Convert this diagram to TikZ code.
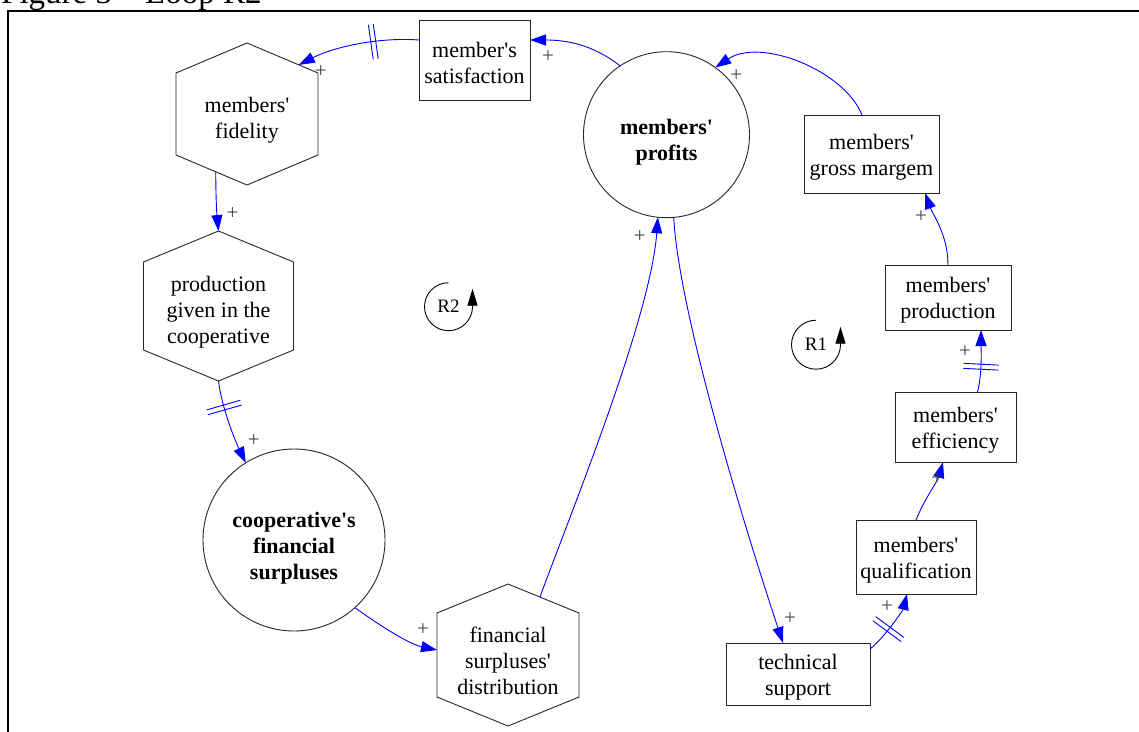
\documentclass[tikz,border=0pt]{standalone}
\usepackage{fontspec}
\setmainfont{Liberation Serif}[Ligatures=TeXOff]
\usetikzlibrary{arrows.meta,calc}

\definecolor{linkblue}{RGB}{0,0,255}
\newcommand\nodetext{\fontsize{22}{26}\selectfont}
\newcommand\plusfont{\fontsize{21}{21}\selectfont}
\newcommand\loopfont{\fontsize{19}{19}\selectfont}
\newcommand\titlefont{\fontsize{33}{36}\selectfont}
% first-line struts: they lower a label a little inside its shape
\newcommand\boxstrut{\rule{0pt}{21pt}}
\newcommand\hexstrut{\rule{0pt}{27pt}}
\newcommand\circstrut{\rule{0pt}{31pt}}

% hexagon outline drawn on the border box of a named node; #2 = drop of the side corners
\newcommand\hexoutline[2]{%
  \coordinate (#1-t)  at (#1.north);
  \coordinate (#1-ur) at ([yshift=-#2]#1.north east);
  \coordinate (#1-lr) at ([yshift=#2]#1.south east);
  \coordinate (#1-b)  at (#1.south);
  \coordinate (#1-ll) at ([yshift=#2]#1.south west);
  \coordinate (#1-ul) at ([yshift=-#2]#1.north west);
  \draw[hexline] (#1-t) -- (#1-ur) -- (#1-lr) -- (#1-b) -- (#1-ll) -- (#1-ul) -- cycle;}

\tikzset{
  vbox/.style={draw=black!85, line width=0.9pt, rectangle, inner sep=0pt, outer sep=0pt, align=center, font=\nodetext},
  vcirc/.style={draw=black!85, line width=0.9pt, circle, inner sep=0pt, outer sep=0pt, align=center, font=\nodetext\bfseries},
  vhex/.style={rectangle, inner sep=0pt, outer sep=0pt, align=center, font=\nodetext},
  hexline/.style={draw=black!85, line width=0.9pt, line join=miter},
  link/.style={draw=linkblue, line width=0.9pt, -{Triangle[length=16pt,width=11pt]}},
  plus/.style={font=\plusfont, text=black!75, inner sep=0pt},
  delaymark/.style={sloped, inner sep=0pt, outer sep=0pt, minimum width=5pt, minimum height=35pt},
  delaybar/.style={draw=linkblue, line width=0.9pt},
  loopname/.style={font=\loopfont, inner sep=0pt},
  loopline/.style={draw=black, line width=0.9pt, -{Triangle[length=17pt,width=10pt]}},
}

\begin{document}
\begin{tikzpicture}[x=1pt, y=-1pt]
\useasboundingbox (0,0) rectangle (1139,731);

% caption and frame
\node[anchor=base west, font=\titlefont, inner sep=0pt] (title) at (1,3) {Figure 3 – Loop R2};
\draw[line width=2.3pt] (1150,11) -- (8,11) -- (8,745);

% variables
\node[vbox, minimum width=111pt, minimum height=80pt] (sat) at (474.5,60) {\boxstrut member's\\satisfaction};
\node[vcirc, minimum size=166pt] (prof) at (666.5,134.7) {\circstrut members'\\profits};
\node[vbox, minimum width=135pt, minimum height=78pt] (gm) at (871.5,154) {\boxstrut members'\\gross margem};
\node[vbox, minimum width=126pt, minimum height=65pt] (mp) at (948,297.5) {\boxstrut members'\\production};
\node[vbox, minimum width=121pt, minimum height=70pt] (eff) at (955.5,427) {\boxstrut members'\\efficiency};
\node[vbox, minimum width=120pt, minimum height=74pt] (qual) at (916,557) {\boxstrut members'\\qualification};
\node[vbox, minimum width=144pt, minimum height=62pt] (ts) at (798,674) {\boxstrut technical\\support};
\node[vcirc, minimum size=182pt] (sur) at (294,540) {\circstrut cooperative's\\financial\\surpluses};

\node[vhex, minimum width=142pt, minimum height=142pt] (fid) at (247,114) {\hexstrut members'\\fidelity};
\hexoutline{fid}{30pt}
\node[vhex, minimum width=150pt, minimum height=150pt] (pg) at (218.5,306) {\hexstrut production\\given in the\\cooperative};
\hexoutline{pg}{31pt}
\node[vhex, minimum width=142pt, minimum height=142pt] (dist) at (508,655) {\hexstrut financial\\surpluses'\\distribution};
\hexoutline{dist}{29pt}

% loop R2
\draw[link] (prof.124) .. controls +(-28,-22) and +(35,0) .. ([yshift=20pt]sat.east)
  node[plus, pos=1, shift={(18,17)}] (p1) {+};
\draw[link] ([yshift=20pt]sat.west) .. controls +(-40,-3) and +(35,-18) .. ($(fid-t)!0.73!(fid-ur)$)
  node[delaymark, pos=0.37] (d1) {}
  node[plus, pos=1, shift={(22,7)}] (p2) {+};
\draw[link] ($(fid-ll)!0.56!(fid-b)$) .. controls +(0,20) and +(-2,-20) .. (pg.north)
  node[plus, pos=1, shift={(14,-17)}] (p3) {+};
\draw[link] (pg.south) .. controls +(3,25) and +(-12,-25) .. (sur.122)
  node[delaymark, pos=0.33] (d2) {}
  node[plus, pos=1, shift={(8,-22)}] (p4) {+};
\draw[link] (sur.-48) .. controls +(25,18) and +(-28,-6) .. ([yshift=5pt]dist.west)
  node[plus, pos=1, shift={(-14,-20)}] (p5) {+};
\draw[link] ($(dist-t)!0.45!(dist-ur)$) .. controls +(30,-82) and +(-7,100) .. (prof.264)
  node[plus, pos=1, shift={(-18,19)}] (p6) {+};

% loop R1
\draw[link] (prof.275) .. controls +(5,100) and +(-30,-90) .. ([xshift=-15pt]ts.north)
  node[plus, pos=1, shift={(7,-24)}] (p7) {+};
\draw[link] ([yshift=25pt]ts.east) .. controls +(15,-12) and +(-4,16) .. ([xshift=-9pt]qual.south)
  node[delaymark, pos=0.4] (d3) {}
  node[plus, pos=1, shift={(-20,13)}] (p8) {+};
\draw[link] (qual.north) .. controls +(8,-20) and +(-5,18) .. ([xshift=-12.5pt]eff.south)
  node[plus, pos=1, shift={(-6,17)}] (p9) {+};
\draw[link] ([xshift=22pt]eff.north) .. controls +(5,-20) and +(0,18) .. ([xshift=33pt]mp.south)
  node[delaymark, pos=0.4] (d4) {}
  node[plus, pos=1, shift={(-16,22)}] (p10) {+};
\draw[link] (mp.north) .. controls +(0,-30) and +(8,22) .. ([xshift=53.5pt]gm.south)
  node[plus, pos=1, shift={(-4,24)}] (p11) {+};
\draw[link] ([xshift=-9.5pt]gm.north) .. controls +(-18,-45) and +(45,-30) .. (prof.54)
  node[plus, pos=1, shift={(21,8)}] (p12) {+};

% delay marks
\foreach \d in {d1,d2,d3,d4}
  \draw[delaybar] (\d.north west) -- (\d.south west) (\d.north east) -- (\d.south east);

% loop identifiers
\node[loopname] (r2) at (448.5,306.7) {R2};
\draw[loopline] ([yshift=24pt]r2.center) arc[start angle=270, end angle=0, radius=24] -- ++(0,-18);
\node[loopname] (r1) at (816,344.7) {R1};
\draw[loopline] ([yshift=24.5pt]r1.center) arc[start angle=270, end angle=0, radius=24.5] -- ++(0,-18);
\end{tikzpicture}
\end{document}
